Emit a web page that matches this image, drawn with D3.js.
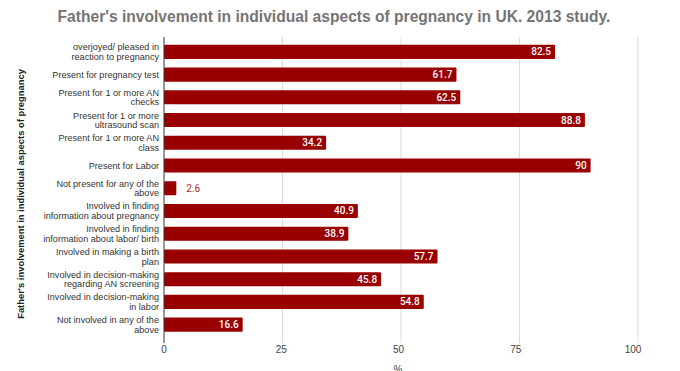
<!DOCTYPE html>
<html><head><meta charset="utf-8">
<script src="https://cdn.jsdelivr.net/npm/d3@7"></script>
<style>body{margin:0;background:#fff}svg{display:block;font-family:"Liberation Sans",Arial,sans-serif}</style>
</head><body>
<script>
const categories = [
  ["overjoyed/ pleased in","reaction to pregnancy"],
  ["Present for pregnancy test"],
  ["Present for 1 or more AN","checks"],
  ["Present for 1 or more","ultrasound scan"],
  ["Present for 1 or more AN","class"],
  ["Present for Labor"],
  ["Not present for any of the","above"],
  ["Involved in finding","information about pregnancy"],
  ["Involved in finding","information about labor/ birth"],
  ["Involved in making a birth","plan"],
  ["Involved in decision-making","regarding AN screening"],
  ["Involved in decision-making","in labor"],
  ["Not involved in any of the","above"]
];
const values = [82.5, 61.7, 62.5, 88.8, 34.2, 90, 2.6, 40.9, 38.9, 57.7, 45.8, 54.8, 16.6];
const xTicks = [0, 25, 50, 75, 100];
const title = "Father's involvement in individual aspects of pregnancy in UK. 2013 study.";
const yTitle = "Father's involvement in individual aspects of pregnancy";
const xTitle = "%";

const W = 680, H = 371;
const svg = d3.select("body").append("svg").attr("width", W).attr("height", H);
const x = d3.scaleLinear().domain([0, 100]).range([164, 638]);
const idx = d3.range(values.length);
const y = d3.scaleBand().domain(idx).range([40.5, 336]).paddingInner(0.38).paddingOuter(0.19);

svg.append("text").attr("x", 334).attr("y", 22).attr("text-anchor", "middle")
  .attr("font-size", 15.6).attr("font-weight", "bold").attr("fill", "#757575").text(title);

// grid
svg.append("g").selectAll("line").data(xTicks.slice(1)).join("line")
  .attr("x1", d => x(d)).attr("x2", d => x(d)).attr("y1", 37).attr("y2", 343)
  .attr("stroke", "#dcdcdc").attr("stroke-width", 1);

// bars
svg.append("g").selectAll("rect").data(idx).join("rect")
  .attr("x", x(0)).attr("y", i => y(i)).attr("width", i => x(values[i]) - x(0))
  .attr("height", y.bandwidth()).attr("fill", "#990000").attr("rx", 1);

// value labels
svg.append("g").selectAll("text").data(idx).join("text")
  .attr("x", i => values[i] < 10 ? x(values[i]) + 10 : x(values[i]) - 4)
  .attr("y", i => y(i) + y.bandwidth() / 2 + 3.5)
  .attr("text-anchor", i => values[i] < 10 ? "start" : "end")
  .attr("font-size", 10).attr("font-family", "Roboto, sans-serif")
  .attr("font-weight", i => values[i] < 10 ? "normal" : "500")
  .attr("fill", i => values[i] < 10 ? "#b3261e" : "#fff")
  .text(i => values[i]);

// axis line
svg.append("line").attr("x1", x(0)).attr("x2", x(0)).attr("y1", 37).attr("y2", 343)
  .attr("stroke", "#333").attr("stroke-width", 1);

// category labels
const cg = svg.append("g");
idx.forEach(i => {
  const lines = categories[i];
  const cy = y(i) + y.bandwidth() / 2;
  const lh = 9.6;
  const t = cg.append("text").attr("text-anchor", "end").attr("font-size", 9.1).attr("fill", "#333");
  lines.forEach((l, k) => {
    t.append("tspan").attr("x", 159)
      .attr("y", cy + 3.3 + (k - (lines.length - 1) / 2) * lh).text(l);
  });
});

// x tick labels
svg.append("g").selectAll("text").data(xTicks).join("text")
  .attr("x", d => x(d) - (d === 0 ? 0 : d / 100 * 5)).attr("y", 353).attr("text-anchor", "middle")
  .attr("font-size", 10).attr("fill", "#444").text(d => d);

svg.append("text").attr("x", 398).attr("y", 373).attr("text-anchor", "middle")
  .attr("font-size", 10).attr("fill", "#444").text(xTitle);

svg.append("text").attr("transform", "translate(24,194) rotate(-90)").attr("text-anchor", "middle")
  .attr("font-size", 9.4).attr("font-weight", "bold").attr("fill", "#222").text(yTitle);
</script>
</body></html>
